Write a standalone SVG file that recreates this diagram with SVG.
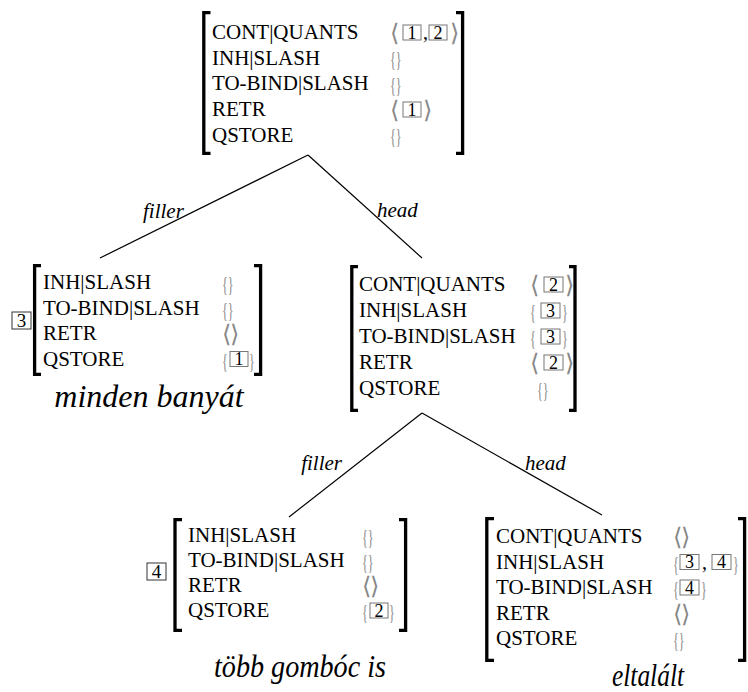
<svg xmlns="http://www.w3.org/2000/svg" width="748" height="692" viewBox="0 0 748 692">
  <style>
    text { font-family: "Liberation Serif", "Times New Roman", "DejaVu Serif", serif; }
    .a { font-size: 21px; fill: #000; }
    .lb { font-style: italic; font-size: 21px; fill: #000; }
    .w { font-style: italic; font-size: 32px; fill: #000; text-anchor: middle; }
    .br { fill: none; stroke: #000; stroke-width: 3.3; stroke-linejoin: miter; }
    .bx { fill: none; stroke: #777; stroke-width: 1; }
    .tg { fill: none; stroke: #333; stroke-width: 1; }
    .n { font-size: 18px; fill: #000; text-anchor: middle; }
    .tn { font-size: 19px; fill: #000; text-anchor: middle; }
    .dl { font-size: 22px; fill: #888; }
    text.ag { font-family: "DejaVu Sans", sans-serif; font-size: 24px; fill: #888; }
    .cm { font-size: 20px; fill: #000; }
    .e { fill: none; stroke: #000; stroke-width: 1.2; }
  </style>

  <!-- tree edges -->
  <g id="edges">
    <line class="e" x1="308" y1="155" x2="100" y2="258"/>
    <line class="e" x1="308" y1="155" x2="422" y2="258"/>
    <line class="e" x1="422" y1="413" x2="289" y2="517"/>
    <line class="e" x1="422" y1="413" x2="602" y2="515"/>
    <text class="lb" x="143" y="218">filler</text>
    <text class="lb" x="377" y="217">head</text>
    <text class="lb" x="342" y="470" text-anchor="end">filler</text>
    <text class="lb" x="525" y="470">head</text>
  </g>

  <!-- root AVM -->
  <g id="n-root">
    <path class="br" d="M210.5 12.6 H203.8 V153.4 H210.5"/>
    <path class="br" d="M456 12.6 H462.6 V153.4 H456"/>
    <text class="a" x="212" y="39">CONT|QUANTS</text>
    <text class="a" x="212" y="64.7">INH|SLASH</text>
    <text class="a" x="212" y="90.4">TO-BIND|SLASH</text>
    <text class="a" x="212" y="116.1">RETR</text>
    <text class="a" x="212" y="141.8">QSTORE</text>
    <text class="ag" x="390" y="41">⟨</text>
    <rect class="bx" x="403" y="25" width="18" height="15"/><text class="n" x="412" y="38.5">1</text>
    <text class="cm" x="423" y="39">,</text>
    <rect class="bx" x="429" y="25" width="18" height="15"/><text class="n" x="438" y="38.5">2</text>
    <text class="ag" x="450" y="41">⟩</text>
    <text class="dl" transform="translate(390 66) scale(.55 1)">{}</text>
    <text class="dl" transform="translate(390 92) scale(.55 1)">{}</text>
    <text class="ag" x="390" y="118">⟨</text>
    <rect class="bx" x="403" y="102" width="18" height="15"/><text class="n" x="412" y="115.5">1</text>
    <text class="ag" x="423" y="118">⟩</text>
    <text class="dl" transform="translate(390 143) scale(.55 1)">{}</text>
  </g>

  <!-- filler daughter: minden banyát -->
  <g id="n-filler-1">
    <rect class="tg" x="12" y="312" width="19" height="17"/><text class="tn" x="21.5" y="327">3</text>
    <path class="br" d="M41 265.6 H34.6 V374.4 H41"/>
    <path class="br" d="M254 265.6 H260.6 V374.4 H254"/>
    <text class="a" x="43" y="289">INH|SLASH</text>
    <text class="a" x="43" y="314.5">TO-BIND|SLASH</text>
    <text class="a" x="43" y="340">RETR</text>
    <text class="a" x="43" y="365.5">QSTORE</text>
    <text class="dl" transform="translate(222 291) scale(.55 1)">{}</text>
    <text class="dl" transform="translate(222 316.5) scale(.55 1)">{}</text>
    <text class="ag" x="222" y="342">⟨</text><text class="ag" x="230" y="342">⟩</text>
    <text class="dl" transform="translate(222 367.5) scale(.55 1)">{</text>
    <rect class="bx" x="230" y="351.5" width="18" height="15"/><text class="n" x="239" y="365">1</text>
    <text class="dl" transform="translate(249 367.5) scale(.55 1)">}</text>
    <text class="w" x="149" y="407">minden banyát</text>
  </g>

  <!-- head daughter -->
  <g id="n-head-1">
    <path class="br" d="M358 266.6 H351.8 V410.4 H358"/>
    <path class="br" d="M569 266.6 H575 V410.4 H569"/>
    <text class="a" x="359" y="291">CONT|QUANTS</text>
    <text class="a" x="359" y="317">INH|SLASH</text>
    <text class="a" x="359" y="343">TO-BIND|SLASH</text>
    <text class="a" x="359" y="369">RETR</text>
    <text class="a" x="359" y="395">QSTORE</text>
    <text class="ag" x="530" y="293">⟨</text>
    <rect class="bx" x="544" y="277" width="19" height="15"/><text class="n" x="553.5" y="290.5">2</text>
    <text class="ag" x="565" y="293">⟩</text>
    <text class="dl" transform="translate(530 319) scale(.55 1)">{</text>
    <rect class="bx" x="541" y="303" width="19" height="15"/><text class="n" x="550.5" y="316.5">3</text>
    <text class="dl" transform="translate(562 319) scale(.55 1)">}</text>
    <text class="dl" transform="translate(530 345) scale(.55 1)">{</text>
    <rect class="bx" x="541" y="329" width="19" height="15"/><text class="n" x="550.5" y="342.5">3</text>
    <text class="dl" transform="translate(562 345) scale(.55 1)">}</text>
    <text class="ag" x="530" y="371">⟨</text>
    <rect class="bx" x="544" y="355" width="19" height="15"/><text class="n" x="553.5" y="368.5">2</text>
    <text class="ag" x="565" y="371">⟩</text>
    <text class="dl" transform="translate(537 397) scale(.55 1)">{}</text>
  </g>

  <!-- filler daughter: több gombóc is -->
  <g id="n-filler-2">
    <rect class="tg" x="147" y="563" width="19" height="17"/><text class="tn" x="156.5" y="578">4</text>
    <path class="br" d="M182 519.6 H175 V630.4 H182"/>
    <path class="br" d="M399 519.6 H405.6 V630.4 H399"/>
    <text class="a" x="188" y="542">INH|SLASH</text>
    <text class="a" x="188" y="567">TO-BIND|SLASH</text>
    <text class="a" x="188" y="592">RETR</text>
    <text class="a" x="188" y="617">QSTORE</text>
    <text class="dl" transform="translate(362 544) scale(.55 1)">{}</text>
    <text class="dl" transform="translate(362 569) scale(.55 1)">{}</text>
    <text class="ag" x="362" y="594">⟨</text><text class="ag" x="370" y="594">⟩</text>
    <text class="dl" transform="translate(362 619) scale(.55 1)">{</text>
    <rect class="bx" x="370" y="603" width="18" height="15"/><text class="n" x="379" y="616.5">2</text>
    <text class="dl" transform="translate(389 619) scale(.55 1)">}</text>
    <text class="w" x="300" y="677" textLength="172" lengthAdjust="spacingAndGlyphs">több gombóc is</text>
  </g>

  <!-- head daughter: eltalált -->
  <g id="n-head-2">
    <path class="br" d="M494 518.6 H486.8 V660.4 H494"/>
    <path class="br" d="M738 518.6 H744.6 V660.4 H738"/>
    <text class="a" x="496" y="543">CONT|QUANTS</text>
    <text class="a" x="496" y="568.5">INH|SLASH</text>
    <text class="a" x="496" y="594">TO-BIND|SLASH</text>
    <text class="a" x="496" y="619.5">RETR</text>
    <text class="a" x="496" y="645">QSTORE</text>
    <text class="ag" x="673" y="545">⟨</text><text class="ag" x="681" y="545">⟩</text>
    <text class="dl" transform="translate(673 570.5) scale(.55 1)">{</text>
    <rect class="bx" x="680" y="554.5" width="19" height="15"/><text class="n" x="689.5" y="568">3</text>
    <text class="cm" x="702" y="569">,</text>
    <rect class="bx" x="712" y="554.5" width="19" height="15"/><text class="n" x="721.5" y="568">4</text>
    <text class="dl" transform="translate(733 570.5) scale(.55 1)">}</text>
    <text class="dl" transform="translate(673 596) scale(.55 1)">{</text>
    <rect class="bx" x="680" y="580" width="19" height="15"/><text class="n" x="689.5" y="593.5">4</text>
    <text class="dl" transform="translate(701 596) scale(.55 1)">}</text>
    <text class="ag" x="673" y="621.5">⟨</text><text class="ag" x="681" y="621.5">⟩</text>
    <text class="dl" transform="translate(673 647) scale(.55 1)">{}</text>
    <text class="w" x="648" y="686" textLength="72" lengthAdjust="spacingAndGlyphs">eltalált</text>
  </g>
</svg>
